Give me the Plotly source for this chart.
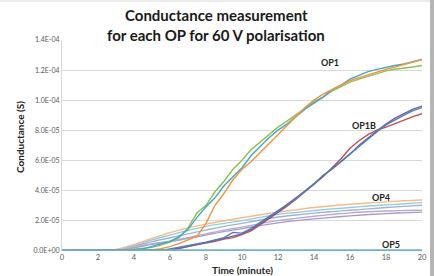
import plotly.graph_objects as go

# ---------------- data ----------------
t_half = [i * 0.5 for i in range(41)]  # 0 .. 20 min, 0.5 min step
t_full = list(range(21))               # 0 .. 20 min, 1 min step

# OP1 (noisy measured curves), values in S
op1_green = [0, 0, 0, 0, 0, 0, 0, 0.02e-5, 0.08e-5, 0.12e-5,
             0.2e-5, 0.35e-5, 0.55e-5, 0.85e-5, 1.5e-5, 2.5e-5, 3.0e-5, 3.9e-5, 4.6e-5, 5.4e-5,
             6.0e-5, 6.7e-5, 7.2e-5, 7.7e-5, 8.2e-5, 8.6e-5, 9.0e-5, 9.45e-5, 9.9e-5, 10.2e-5,
             10.6e-5, 10.9e-5, 11.2e-5, 11.4e-5, 11.6e-5, 11.8e-5, 11.95e-5, 12.05e-5, 12.15e-5, 12.2e-5,
             12.3e-5]
op1_cyan = [0, 0, 0, 0, 0, 0, 0, 0.01e-5, 0.05e-5, 0.1e-5,
            0.25e-5, 0.4e-5, 0.6e-5, 0.9e-5, 1.4e-5, 2.2e-5, 2.9e-5, 3.5e-5, 4.3e-5, 4.9e-5,
            5.5e-5, 6.3e-5, 6.9e-5, 7.5e-5, 8.0e-5, 8.4e-5, 8.9e-5, 9.4e-5, 9.8e-5, 10.2e-5,
            10.7e-5, 11.0e-5, 11.4e-5, 11.65e-5, 11.9e-5, 12.05e-5, 12.2e-5, 12.3e-5, 12.4e-5, 12.55e-5,
            12.7e-5]
op1_orange = [0, 0, 0, 0, 0, 0, 0, 0, 0, 0,
              0.03e-5, 0.12e-5, 0.25e-5, 0.45e-5, 0.7e-5, 0.95e-5, 1.8e-5, 3.0e-5, 3.8e-5, 4.7e-5,
              5.4e-5, 5.9e-5, 6.5e-5, 7.1e-5, 7.7e-5, 8.3e-5, 8.9e-5, 9.5e-5, 10.0e-5, 10.4e-5,
              10.7e-5, 11.0e-5, 11.3e-5, 11.5e-5, 11.7e-5, 11.9e-5, 12.05e-5, 12.2e-5, 12.35e-5, 12.5e-5,
              12.7e-5]

# OP1B (noisy measured curves)
op1b_red = [0, 0, 0, 0, 0, 0, 0, 0, 0, 0,
            0, 0, 0.05e-5, 0.15e-5, 0.25e-5, 0.35e-5, 0.45e-5, 0.6e-5, 0.75e-5, 0.85e-5,
            1.05e-5, 1.3e-5, 1.7e-5, 2.1e-5, 2.5e-5, 2.95e-5, 3.4e-5, 3.9e-5, 4.4e-5, 4.9e-5,
            5.5e-5, 6.1e-5, 6.8e-5, 7.3e-5, 7.7e-5, 8.0e-5, 8.2e-5, 8.45e-5, 8.7e-5, 8.9e-5,
            9.1e-5]
op1b_blue = [0, 0, 0, 0, 0, 0, 0, 0, 0, 0,
             0, 0, 0.1e-5, 0.2e-5, 0.3e-5, 0.4e-5, 0.55e-5, 0.7e-5, 0.85e-5, 1.2e-5,
             1.15e-5, 1.45e-5, 1.85e-5, 2.25e-5, 2.6e-5, 3.0e-5, 3.45e-5, 3.95e-5, 4.45e-5, 4.95e-5,
             5.45e-5, 5.95e-5, 6.45e-5, 6.9e-5, 7.4e-5, 7.9e-5, 8.35e-5, 8.7e-5, 9.0e-5, 9.3e-5,
             9.5e-5]
op1b_purple = [0, 0, 0, 0, 0, 0, 0, 0, 0, 0,
               0, 0, 0.03e-5, 0.12e-5, 0.25e-5, 0.38e-5, 0.5e-5, 0.65e-5, 0.8e-5, 0.95e-5,
               1.1e-5, 1.4e-5, 1.8e-5, 2.2e-5, 2.55e-5, 3.05e-5, 3.5e-5, 3.9e-5, 4.4e-5, 5.0e-5,
               5.4e-5, 5.9e-5, 6.4e-5, 7.0e-5, 7.5e-5, 7.95e-5, 8.4e-5, 8.8e-5, 9.1e-5, 9.4e-5,
               9.6e-5]

# OP4 (smooth curves)
op4_orange = [0, 0, 0, 0.07e-5, 0.4e-5, 0.8e-5, 1.18e-5, 1.5e-5, 1.75e-5, 1.97e-5, 2.17e-5,
              2.37e-5, 2.55e-5, 2.7e-5, 2.85e-5, 2.97e-5, 3.07e-5, 3.15e-5, 3.23e-5, 3.3e-5, 3.35e-5]
op4_cyan = [0, 0, 0, 0.05e-5, 0.33e-5, 0.7e-5, 1.02e-5, 1.33e-5, 1.6e-5, 1.8e-5, 1.98e-5,
            2.2e-5, 2.4e-5, 2.52e-5, 2.65e-5, 2.76e-5, 2.85e-5, 2.95e-5, 3.03e-5, 3.1e-5, 3.18e-5]
op4_steel = [0, 0, 0, 0.04e-5, 0.28e-5, 0.58e-5, 0.84e-5, 1.1e-5, 1.35e-5, 1.6e-5, 1.8e-5,
             2.02e-5, 2.22e-5, 2.36e-5, 2.48e-5, 2.58e-5, 2.67e-5, 2.76e-5, 2.85e-5, 2.93e-5, 3.0e-5]
op4_lavender = [0, 0, 0, 0.03e-5, 0.22e-5, 0.45e-5, 0.62e-5, 0.85e-5, 1.1e-5, 1.35e-5, 1.55e-5,
                1.78e-5, 1.98e-5, 2.13e-5, 2.27e-5, 2.39e-5, 2.5e-5, 2.57e-5, 2.62e-5, 2.65e-5, 2.67e-5]
op4_purple = [0, 0, 0, 0.02e-5, 0.18e-5, 0.4e-5, 0.58e-5, 0.8e-5, 1.02e-5, 1.25e-5, 1.45e-5,
              1.65e-5, 1.83e-5, 1.98e-5, 2.1e-5, 2.2e-5, 2.3e-5, 2.38e-5, 2.45e-5, 2.5e-5, 2.55e-5]

# OP5 (flat)
op5_a = [0] * 21

y_tickvals = [0, 2e-5, 4e-5, 6e-5, 8e-5, 1.0e-4, 1.2e-4, 1.4e-4]
y_ticktext = ["0.0E+00", "2.0E-05", "4.0E-05", "6.0E-05", "8.0E-05", "1.0E-04", "1.2E-04", "1.4E-04"]
x_tickvals = [0, 2, 4, 6, 8, 10, 12, 14, 16, 18, 20]

labels = ["OP1", "OP1B", "OP4", "OP5"]
label_x = [14.9, 16.8, 17.7, 18.3]
label_y = [1.247e-4, 8.33e-5, 3.53e-5, 0.4e-5]

title_lines = ["Conductance measurement", "for each OP for 60 V polarisation"]
x_title = "Time (minute)"
y_title = "Conductance (S)"

# ---------------- figure ----------------
fig = go.Figure()

def add(x, y, color, width=1.4, shape="linear"):
    fig.add_trace(go.Scatter(x=x, y=y, mode="lines",
                             line=dict(color=color, width=width, shape=shape),
                             showlegend=False, hoverinfo="skip"))

# OP4 smooth
add(t_full, op4_purple, "#A99BC9", 1.4, "spline")
add(t_full, op4_lavender, "#B8A9D4", 1.4, "spline")
add(t_full, op4_steel, "#9DB4D6", 1.4, "spline")
add(t_full, op4_cyan, "#93CDDD", 1.4, "spline")
add(t_full, op4_orange, "#F9B98A", 1.4, "spline")

# OP1
add(t_half, op1_green, "#8CC152")
add(t_half, op1_cyan, "#3FA9C9")
add(t_half, op1_orange, "#F7923A")

# OP1B
add(t_half, op1b_red, "#C0504D")
add(t_half, op1b_purple, "#7A5FA8")
add(t_half, op1b_blue, "#4A7EBB")

# OP5
add(t_full, op5_a, "#6FB3C6", 2.2)

for txt, lx, ly in zip(labels, label_x, label_y):
    fig.add_annotation(x=lx, y=ly, xref="x", yref="y", text="<b>" + txt + "</b>",
                       showarrow=False, font=dict(family="Lato", size=9, color="#262626"))

# two-line title
for line, py in zip(title_lines, [15, 35]):
    fig.add_annotation(x=(216 - 62) / 360, y=(251 - py) / 211, xref="paper", yref="paper",
                       text="<b>" + line + "</b>", showarrow=False,
                       xanchor="center", yanchor="middle",
                       font=dict(family="Lato", size=15, color="#1a1a1a"))

# axis titles
fig.add_annotation(x=(242 - 62) / 360, y=(251 - 270) / 211, xref="paper", yref="paper",
                   text="<b>" + x_title + "</b>", showarrow=False,
                   xanchor="center", yanchor="middle",
                   font=dict(family="Lato", size=10, color="#262626"))
fig.add_annotation(x=(20 - 62) / 360, y=(251 - 137) / 211, xref="paper", yref="paper",
                   text="<b>" + y_title + "</b>", showarrow=False, textangle=-90,
                   xanchor="center", yanchor="middle",
                   font=dict(family="Lato", size=10, color="#262626"))

# frame of the original picture (top thin line, right grey band)
fig.add_shape(type="rect", xref="paper", yref="paper",
              x0=(430 - 62) / 360, x1=(434 - 62) / 360, y0=-25 / 211, y1=251 / 211,
              fillcolor="#B5B5B5", line=dict(width=0), layer="above")
fig.add_shape(type="line", xref="paper", yref="paper",
              x0=-62 / 360, x1=(430 - 62) / 360, y0=250 / 211, y1=250 / 211,
              line=dict(color="#DADADA", width=1))

fig.update_layout(
    width=434, height=276,
    margin=dict(l=62, r=12, t=40, b=25, autoexpand=False),
    paper_bgcolor="white", plot_bgcolor="white",
    font=dict(family="Lato", color="#595959"),
    xaxis=dict(range=[0, 20], tickvals=x_tickvals, showgrid=False, zeroline=False,
               showline=False, ticks="", automargin=False,
               tickfont=dict(size=7.5, color="#595959")),
    yaxis=dict(range=[-4e-7, 1.4e-4], tickvals=y_tickvals, ticktext=y_ticktext,
               showgrid=True, gridcolor="#D9D9D9", gridwidth=1, zeroline=False,
               showline=True, linecolor="#D9D9D9", linewidth=1, ticks="", automargin=False,
               tickfont=dict(size=7, color="#595959")),
)

fig.write_html("out.html")
